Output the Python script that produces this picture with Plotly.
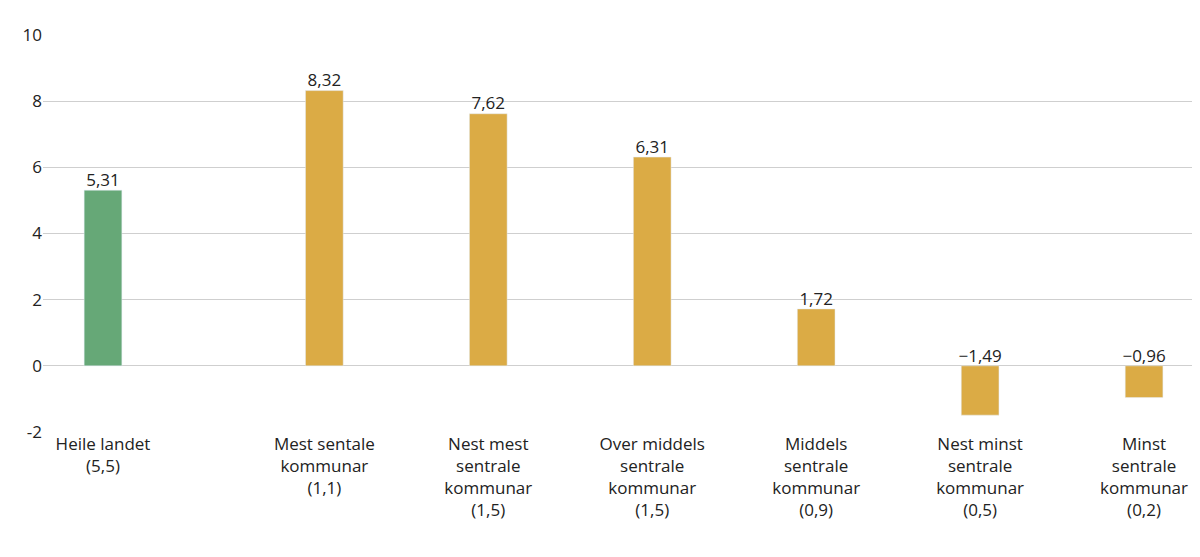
import plotly.graph_objects as go

categories = ["Heile landet<br>(5,5)", "Mest sentale<br>kommunar<br>(1,1)", "Nest mest<br>sentrale<br>kommunar<br>(1,5)",
              "Over middels<br>sentrale<br>kommunar<br>(1,5)", "Middels<br>sentrale<br>kommunar<br>(0,9)",
              "Nest minst<br>sentrale<br>kommunar<br>(0,5)", "Minst<br>sentrale<br>kommunar<br>(0,2)"]
values = [5.31, 8.32, 7.62, 6.31, 1.72, -1.49, -0.96]
positions = [0, 1.35, 2.35, 3.35, 4.35, 5.35, 6.35]
colors = ["#66a877"] + ["#dbab45"] * 6
labels = [f"{v:.2f}".replace(".", ",").replace("-", "\u2212") for v in values]
yticks = [-2, 0, 2, 4, 6, 8, 10]

fig = go.Figure(go.Bar(
    x=positions, y=values, width=0.23, marker_color=colors,
))
fig.add_trace(go.Scatter(
    x=positions, y=[max(v, 0) for v in values], mode="text", text=labels,
    textposition="top center", cliponaxis=False,
    textfont=dict(size=17, color="#222", family="Open Sans"),
))
fig.update_layout(
    width=1200, height=557, plot_bgcolor="white", paper_bgcolor="white",
    margin=dict(l=35, r=0, t=27, b=133), showlegend=False,
    font=dict(family="Open Sans", size=17, color="#222"),
)
fig.update_xaxes(range=[-0.366, 6.74], tickvals=positions, ticktext=categories,
                 showgrid=False, ticks="", tickfont=dict(size=17), automargin=False)
fig.update_yaxes(range=[-2, 10], tickvals=yticks, ticktext=[str(t) for t in yticks],
                 gridcolor="#cfcfcf", zeroline=False, automargin=False,
                 tickfont=dict(size=17), ticklabelstandoff=0)
fig.write_html("out.html")
